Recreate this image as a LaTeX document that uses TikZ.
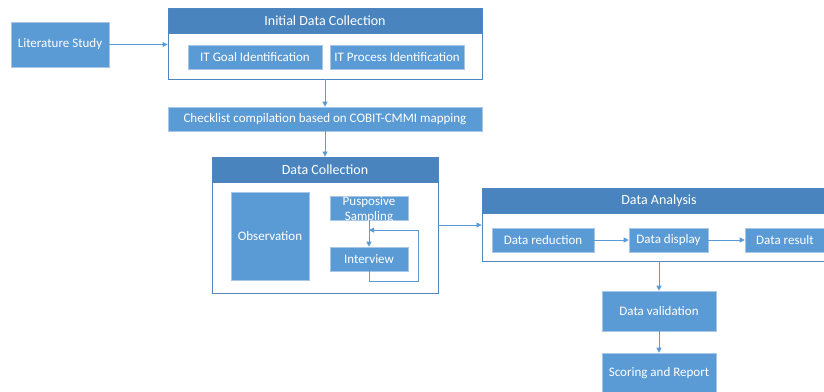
\documentclass[tikz,border=0pt]{standalone}
\usepackage{fontspec}
\setmainfont{Carlito}
\usepackage{tikz}
\usetikzlibrary{arrows.meta,positioning,calc}
\definecolor{boxblue}{HTML}{5B9BD5}
\definecolor{headblue}{HTML}{4A84BE}
\definecolor{frameblue}{HTML}{4F86C0}
\definecolor{edgeblue}{HTML}{A8C6E6}

\begin{document}
\begin{tikzpicture}[x=1pt, y=-1pt, font=\fontsize{13}{15}\selectfont]

\tikzset{
  stepbox/.style={draw=edgeblue, line width=0.6pt, fill=boxblue, text=white,
                  inner sep=1pt, align=center},
  frame/.style={draw=frameblue, line width=0.9pt, fill=white},
  head/.style={draw=frameblue, line width=0.9pt, fill=headblue, text=white,
               minimum height=25pt, font=\fontsize{14}{16}\selectfont},
  flow/.style={-{Triangle[length=5pt, width=5pt]}, line width=0.8pt, draw=boxblue}}

\useasboundingbox (0,0) rectangle (824,391);

% literature study
\node[stepbox, minimum width=98pt, minimum height=45pt] (lit) at (60,44.5) {Literature Study};

% initial data collection
\node[frame, minimum width=314pt, minimum height=71pt] (idc) at (325,43.5) {};
\node[head, minimum width=314pt] (idch) at (325,20.5) {Initial Data Collection};
\node[stepbox, minimum width=134pt, minimum height=24pt] (goal) at (255,57) {IT Goal Identification};
\node[stepbox, minimum width=134pt, minimum height=24pt] (proc) at (397,57) {IT Process Identification};
\draw[flow] (lit.east) -- (lit.east -| idc.west);

% checklist
\node[stepbox, minimum width=314pt, minimum height=24pt] (chk) at (325,119) {Checklist compilation based on COBIT-CMMI mapping};
\draw[flow] (idc.south) -- (chk.north);

% data collection
\node[frame, minimum width=226pt, minimum height=136pt] (dc) at (325,225) {};
\node[head, minimum width=226pt] (dch) at (325,169.5) {Data Collection};
\node[stepbox, minimum width=78pt, minimum height=88pt] (obs) at (270,236) {Observation};
\node[stepbox, minimum width=78pt, minimum height=24pt] (samp) at (369,208) {};
\node[text=white, align=center, inner sep=0pt, font=\fontsize{13}{15.5}\selectfont] (samplbl) at (369,209.5) {Pusposive\\Sampling};
\node[stepbox, minimum width=78pt, minimum height=24pt] (intv) at (369,259) {Interview};
\draw[flow] (samp.south) -- (intv.north);
\coordinate (loopin) at ($(samp.south)!0.37!(intv.north)$);
\draw[flow] (intv.south) -- ++(0,10) -| ([xshift=10pt]intv.east |- loopin) -- (loopin);
\draw[flow] (dc.north |- chk.south) -- (dc.north);

% data analysis
\node[frame, minimum width=354pt, minimum height=73pt] (da) at (659,224.5) {};
\node[head, minimum width=354pt] (dah) at (659,200.5) {Data Analysis};
\node[stepbox, minimum width=102pt, minimum height=24pt] (red) at (543,240) {Data reduction};
\node[stepbox, minimum width=79pt, minimum height=24pt] (disp) at (668.5,240) {Data display};
\node[stepbox, minimum width=80pt, minimum height=24pt] (res) at (785,240) {Data result};
\draw[flow] (dc.east) -- (dc.east -| da.west);
\draw[flow] (red) -- (disp);
\draw[flow] (disp) -- (res);

% validation and report
\node[stepbox, minimum width=114pt, minimum height=40pt] (val) at (659,311) {Data validation};
\node[stepbox, minimum width=114pt, minimum height=40pt] (score) at (659,373) {Scoring and Report};
\draw[flow] (da.south) -- (val.north);
\draw[flow] (val.south) -- (score.north);

\end{tikzpicture}
\end{document}
